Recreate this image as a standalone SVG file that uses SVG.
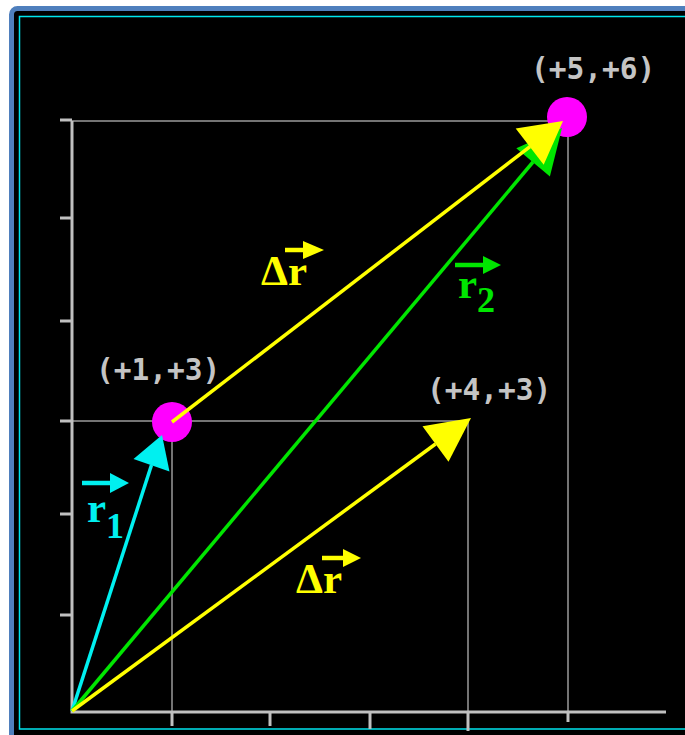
<svg xmlns="http://www.w3.org/2000/svg" width="685" height="735" viewBox="0 0 685 735">
<style>
.axis{stroke:#c0c0c0;stroke-width:3;fill:none}
.grid{stroke:#9a9a9a;stroke-width:1.5;fill:none}
.coord{font-family:"DejaVu Sans Mono","Liberation Mono",monospace;font-weight:bold;font-size:29.5px;fill:#c4c4c4}
.lbl{font-family:"Liberation Serif","DejaVu Serif",serif;font-weight:bold;font-size:43px}
.sub{font-size:36px}
</style>
<rect width="685" height="735" fill="#ffffff"/>
<rect x="11.5" y="8.5" width="700" height="760" rx="6" fill="#000" stroke="#4f7fbd" stroke-width="5"/>
<rect x="19.5" y="16.5" width="700" height="712.5" fill="none" stroke="#00e5ee" stroke-width="1.5"/>

<g id="grid">
<path class="grid" d="M72,121 H568 V711"/>
<path class="grid" d="M72,421 H468 V711"/>
<path class="grid" d="M172,421 V711"/>
</g>
<g id="axes">
<path class="axis" d="M72,121 V712 H666"/>
<path class="axis" d="M60,120 H72 M60,218 H72 M60,321 H72 M60,421 H72 M60,514 H72 M60,615 H72"/>
<path class="axis" d="M172,712 V726 M270,712 V726 M370,712 V729 M468,712 V731 M568,712 V722"/>
</g>

<g id="point-start">
<circle cx="172" cy="422" r="20" fill="#ff00ff"/>
<text class="coord" x="96" y="380">(+1,+3)</text>
</g>
<g id="point-end">
<circle cx="567" cy="117" r="20" fill="#ff00ff"/>
<text class="coord" x="531" y="79">(+5,+6)</text>
</g>
<g id="point-mid">
<text class="coord" x="427" y="400">(+4,+3)</text>
</g>

<g id="connectors">
<line x1="72" y1="711" x2="151.5" y2="465" stroke="#00f0f0" stroke-width="3.5"/>
<polygon points="162,435 169.5,471.4 133.5,459" fill="#00f0f0"/>
<line x1="72" y1="711" x2="533" y2="162" stroke="#00e600" stroke-width="3.5"/>
<polygon points="562,128 549.9,176.5 516.3,148.3" fill="#00e600"/>
<line x1="72" y1="711" x2="435.5" y2="444" stroke="#ffff00" stroke-width="3.5"/>
<polygon points="471,418 448.5,461.7 422.5,426.3" fill="#ffff00"/>
<line x1="172" y1="422" x2="530" y2="146.6" stroke="#ffff00" stroke-width="3.5"/>
<polygon points="563,121 543.7,164.8 515.7,128.4" fill="#ffff00"/>
</g>

<g id="label-dr-upper" fill="#ffff00">
<text class="lbl" x="261" y="285">Δr</text>
<path d="M285,250 H306" stroke="#ffff00" stroke-width="4.5"/>
<polygon points="324,250 303,241 303,259"/>
</g>
<g id="label-dr-lower" fill="#ffff00">
<text class="lbl" x="296" y="593">Δr</text>
<path d="M322,558 H346" stroke="#ffff00" stroke-width="4.5"/>
<polygon points="361,558 343,549 343,567"/>
</g>
<g id="label-r1" fill="#00f0f0">
<text class="lbl" x="87" y="522">r<tspan class="sub" dy="16">1</tspan></text>
<path d="M82,483 H113" stroke="#00f0f0" stroke-width="4.5"/>
<polygon points="129,483 110,473 110,493"/>
</g>
<g id="label-r2" fill="#00e600">
<text class="lbl" x="458" y="298">r<tspan class="sub" dy="14">2</tspan></text>
<path d="M455,265 H486" stroke="#00e600" stroke-width="4.5"/>
<polygon points="501,265 483,256 483,274"/>
</g>
</svg>
